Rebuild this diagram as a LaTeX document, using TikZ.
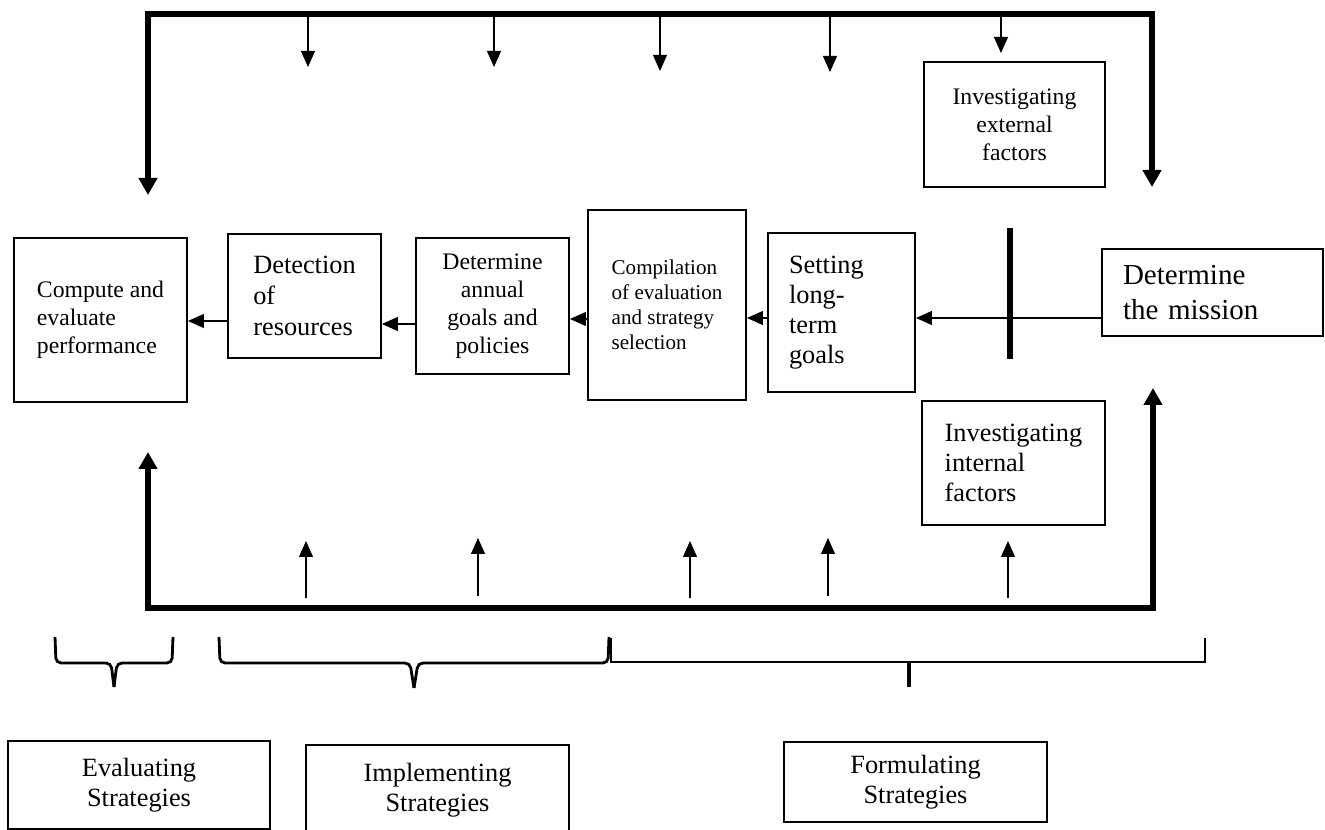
\documentclass[tikz,border=0pt]{standalone}
\usepackage{fontspec}
\setmainfont{Liberation Serif}
\usetikzlibrary{arrows.meta}

\begin{document}
\begin{tikzpicture}[x=0.02cm, y=-0.02cm, every node/.style={inner sep=0pt}]
  \tikzset{
    box/.style={draw, line width=1.1pt, align=center, font=\fontsize{13.5}{16}\selectfont},
    flow/.style={line width=0.6pt, -{Triangle[length=0.32cm, width=0.28cm]}},
    mainloop/.style={line width=3.2pt, {Triangle[length=0.34cm, width=0.36cm]}-{Triangle[length=0.34cm, width=0.36cm]}},
    groupbrace/.style={line width=1.6pt, rounded corners=0.1cm}
  }
  \useasboundingbox (0,0) rectangle (1325,830);

  % process chain
  \node[box, minimum width=3.46cm, minimum height=3.28cm, align=left] (compute) at (100.5,320) {Compute and\\evaluate\\performance};
  \node[box, minimum width=3.06cm, minimum height=2.48cm, align=left, font=\fontsize{15}{17.5}\selectfont] (detect) at (304.5,296) {Detection\\of\\resources};
  \node[box, minimum width=3.06cm, minimum height=2.72cm] (annual) at (492.5,306) {Determine\\annual\\goals and\\policies};
  \node[box, minimum width=3.16cm, minimum height=3.8cm, align=left, font=\fontsize{12}{14.2}\selectfont] (compil) at (667,305) {Compilation\\of evaluation\\and strategy\\selection};
  \node[box, minimum width=2.94cm, minimum height=3.18cm, text width=2.1cm, align=left, font=\fontsize{15}{17}\selectfont] (setting) at (841.5,312.5) {Setting\\long-\\term\\goals};
  \node[box, minimum width=4.42cm, minimum height=1.74cm, text width=3.58cm, align=left, font=\fontsize{16.5}{19.5}\selectfont] (mission) at (1212.5,292.5) {Determine\\the mission};
  \node[box, minimum width=3.62cm, minimum height=2.5cm] (external) at (1014.5,124.5) {Investigating\\external\\factors};
  \node[box, minimum width=3.66cm, minimum height=2.48cm, align=left, font=\fontsize{15}{17}\selectfont] (internal) at (1013.5,463) {Investigating\\internal\\factors};

  % stages
  \node[box, minimum width=5.25cm, minimum height=1.76cm, font=\fontsize{15}{17}\selectfont] (evaluating) at (139,785) {Evaluating\\Strategies};
  \node[box, minimum width=5.26cm, minimum height=1.8cm, font=\fontsize{15}{17}\selectfont] (implementing) at (437.5,790) {Implementing\\Strategies};
  \node[box, minimum width=5.26cm, minimum height=1.6cm, font=\fontsize{15}{17}\selectfont] (formulating) at (915.5,782) {Formulating\\Strategies};

  \draw[flow] (mission.west |- 0,318) -- (setting.east |- 0,318);
  \draw[flow] (setting.west |- 0,318) -- (compil.east |- 0,318);
  \draw[flow] (compil.west |- 0,319) -- (annual.east |- 0,319);
  \draw[flow] (annual.west |- 0,324) -- (detect.east |- 0,324);
  \draw[flow] (detect.west |- 0,321) -- (compute.east |- 0,321);

  \draw[line width=3.2pt] (1010,228) -- (1010,359);

  % feedback loops
  \coordinate (evalTop) at (148,195);
  \coordinate (missionTop) at (1152,187);
  \coordinate (evalBot) at (148,452);
  \coordinate (missionBot) at (1153,388);
  \draw[mainloop] (evalTop) |- (1152,14) -- (missionTop);
  \draw[mainloop] (evalBot) |- (1153,608) -- (missionBot);

  \draw[flow] (308,14) -- (308,67);
  \draw[flow] (494,14) -- (494,67);
  \draw[flow] (660,14) -- (660,71);
  \draw[flow] (830,14) -- (830,72);
  \draw[flow] (1001,14) -- (1001,53);

  \draw[flow] (306,598) -- (306,541);
  \draw[flow] (478,596) -- (478,538);
  \draw[flow] (690,598) -- (690,541);
  \draw[flow] (828,596) -- (828,538);
  \draw[flow] (1008,598) -- (1008,541);

  % braces
  \draw[groupbrace] (55,637) -- (56,663) -- (111,663) -- (114,687);
  \draw[groupbrace] (173,637) -- (172,663) -- (117,663) -- (114,687);
  \draw[groupbrace] (219,637) -- (220,663) -- (410,663) -- (414,688);
  \draw[groupbrace] (609,637) -- (608,663) -- (418,663) -- (414,688);
  \draw[line width=1.6pt] (611,638) |- (1205,662) -- (1205,638);
  \draw[line width=2.5pt] (909,662) -- (909,687);
\end{tikzpicture}
\end{document}
